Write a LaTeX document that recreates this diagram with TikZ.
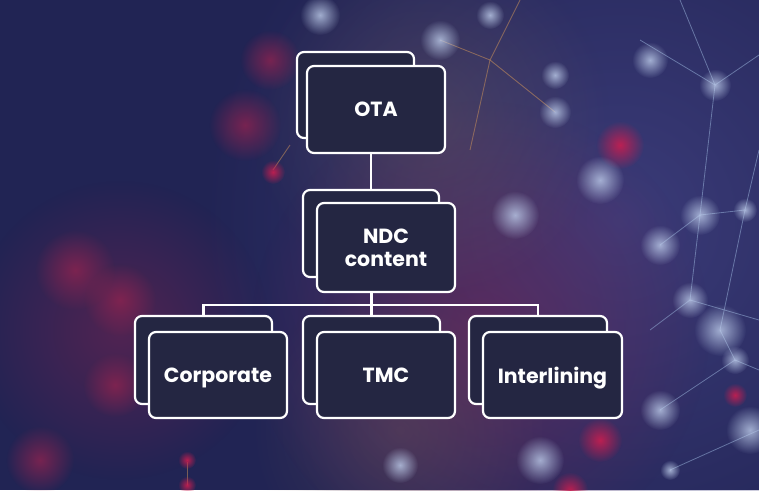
\documentclass[tikz,border=0pt]{standalone}
\usepackage{fontspec}
\setmainfont{Poppins}
\usetikzlibrary{fadings}
\tikzfading[name=softdot, inner color=transparent!0, outer color=transparent!100]
\definecolor{bgnavy}{RGB}{33,36,84}
\definecolor{bgglow}{RGB}{62,62,125}
\definecolor{boxfill}{RGB}{36,38,66}
\definecolor{bokred}{RGB}{200,30,80}
\definecolor{dimred}{RGB}{140,35,80}
\definecolor{boklight}{RGB}{190,205,235}
\definecolor{netline}{RGB}{150,175,215}
\definecolor{netorange}{RGB}{210,150,90}
\tikzset{
  orgbox/.style={draw=white, line width=2.2pt, fill=boxfill, rounded corners=7pt,
    inner sep=0pt, align=center, text=white, font=\fontsize{20.5}{23}\selectfont\bfseries},
  link/.style={draw=white, line width=2.2pt},
  glow/.style={path fading=softdot},
}
\begin{document}
\begin{tikzpicture}[x=1pt,y=-1pt]
\useasboundingbox (0,0) rectangle (759,490);
\fill[bgnavy] (0,0) rectangle (759,490);
% soft background glow
\fill[glow, color=bgglow, opacity=0.9] (620,220) circle (420);
\fill[glow, color=dimred, opacity=0.45] (480,330) circle (230);
\fill[glow, color=dimred, opacity=0.45] (120,330) circle (150);
\fill[glow, color=netorange!50!bgnavy, opacity=0.35] (430,120) circle (180);
\fill[glow, color=netorange!45!bgnavy, opacity=0.35] (400,430) circle (150);
% network lines
\begin{scope}[netline, line width=0.8pt, opacity=0.55]
  \draw (715,85) -- (680,0);
  \draw (715,85) -- (759,55);
  \draw (715,85) -- (700,215);
  \draw (715,85) -- (640,40);
  \draw (700,215) -- (745,210);
  \draw (700,215) -- (690,300);
  \draw (745,210) -- (759,150);
  \draw (745,210) -- (720,330);
  \draw (690,300) -- (759,320);
  \draw (690,300) -- (650,330);
  \draw (720,330) -- (735,360);
  \draw (735,360) -- (759,370);
  \draw (660,245) -- (700,215);
  \draw (670,470) -- (759,430);
  \draw (660,410) -- (735,360);
\end{scope}
\begin{scope}[netorange, line width=0.9pt, opacity=0.5]
  \draw (490,60) -- (555,112);
  \draw (490,60) -- (520,0);
  \draw (490,60) -- (440,40);
  \draw (490,60) -- (470,150);
  \draw (273,170) -- (290,145);
  \draw (187,462) -- (187,485);
\end{scope}
% bokeh dots
\foreach \x/\y/\r in {273/172/12, 187/460/9, 187/485/9, 620/145/24, 735/395/12, 600/440/22, 570/490/18}
  \fill[glow, color=bokred, opacity=0.9] (\x,\y) circle (\r);
\foreach \x/\y/\r in {40/460/34, 115/385/32, 75/270/40, 120/300/36, 245/125/36, 270/60/30}
  \fill[glow, color=dimred, opacity=0.8] (\x,\y) circle (\r);
\foreach \x/\y/\r in {320/15/20, 440/40/20, 490/15/14, 555/112/16, 555/75/14, 715/85/16, 700/215/20, 745/210/12, 515/215/24, 660/245/20, 690/300/18, 720/330/26, 735/360/14, 660/410/20, 540/460/24, 400/465/18, 670/470/10, 750/430/24, 600/180/24, 650/60/18}
  \fill[glow, color=boklight, opacity=0.8] (\x,\y) circle (\r);
% connectors
\coordinate (bus) at (371,305);
% boxes
\node[orgbox, minimum width=117pt, minimum height=86pt] (otaback) at (355.5,95) {};
\node[orgbox, minimum width=138pt, minimum height=87pt] (ota) at (376,109.5) {OTA};
\node[orgbox, minimum width=136pt, minimum height=87pt] (ndcback) at (371,233.5) {};
\node[orgbox, minimum width=138pt, minimum height=89pt] (ndc) at (386,247.5) {NDC\\content};
\node[orgbox, minimum width=137pt, minimum height=88pt] (corpback) at (203.5,360) {};
\node[orgbox, minimum width=138pt, minimum height=86pt, text depth=0pt] (corp) at (218,375) {Corporate};
\node[orgbox, minimum width=137pt, minimum height=88pt] (tmcback) at (371.5,360) {};
\node[orgbox, minimum width=138pt, minimum height=86pt] (tmc) at (386,375) {TMC};
\node[orgbox, minimum width=138pt, minimum height=88pt] (interback) at (538,360) {};
\node[orgbox, minimum width=139pt, minimum height=86pt, text depth=0pt] (inter) at (552.5,375) {Interlining};
\draw[link] (ota.south -| ndcback.north) -- (ndcback.north);
\draw[link] (ndc.south -| tmcback.north) -- (tmcback.north);
\draw[link] (corpback.north) |- (bus) -| (interback.north);
\end{tikzpicture}
\end{document}
